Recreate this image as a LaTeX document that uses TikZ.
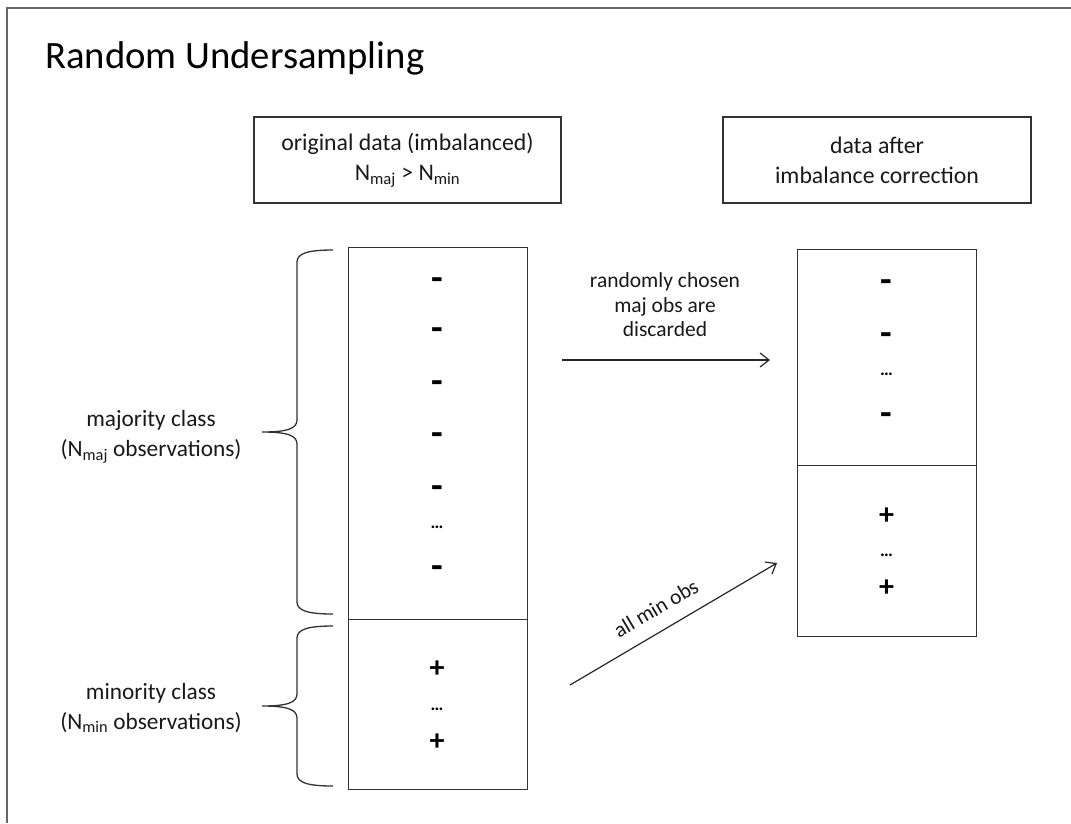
\documentclass[tikz,border=0pt]{standalone}
\usepackage{fontspec}
\setmainfont{Carlito}
\usetikzlibrary{arrows.meta}

\newcommand{\titlefont}{\fontsize{38.7}{44}\selectfont}
\newcommand{\bodyfont}{\fontsize{23.8}{30}\selectfont}
\newcommand{\sidefont}{\fontsize{23.3}{30}\selectfont}
\newcommand{\notefont}{\fontsize{21.5}{24.5}\selectfont}

% curly brace opening to the right; #1 = top y, #2 = bottom y
\newcommand{\drawbrace}[2]{%
  \pgfmathsetmacro{\bmid}{(#1+#2)/2}%
  \draw[ink] (333,#1) .. controls (309,#1) and (297,#1+3) .. (297,#1+12)
    -- (297,\bmid-12) .. controls (297,\bmid-3) and (286,\bmid) .. (262,\bmid)
    .. controls (286,\bmid) and (297,\bmid+3) .. (297,\bmid+12)
    -- (297,#2-12) .. controls (297,#2-3) and (309,#2) .. (333,#2);
}

\begin{document}
\begin{tikzpicture}[x=1pt,y=-1pt,
  ink/.style={draw=black!80, line width=1.3pt},
  frame/.style={draw=black!60, line width=1.6pt},
  cell/.style={ink, minimum width=179pt, inner sep=0pt, anchor=north west},
  headbox/.style={ink, minimum width=307pt, minimum height=86pt, align=center, font=\bodyfont, text=black!90},
  sidelabel/.style={align=center, font=\sidefont, text=black!90},
  note/.style={align=center, font=\notefont, text=black!90},
  minus/.style={font=\fontsize{38}{38}\selectfont\bfseries, inner sep=0pt, text=black, yshift=-6pt},
  plus/.style={font=\fontsize{30}{30}\selectfont\bfseries, inner sep=0pt, text=black},
  dots/.style={font=\fontsize{18}{18}\selectfont\bfseries, inner sep=0pt, text=black},
  arrow/.style={draw=black!85, line width=1.2pt, -{Straight Barb[length=9pt,width=14pt,line width=1.2pt]}}
]
\useasboundingbox (0,0) rectangle (1071,823);

% page frame
\draw[frame] (1071,8) -- (7,8) -- (7,823);

% title
\node[anchor=base west, font=\titlefont, inner sep=0pt, text=black] (title) at (45,68) {Random Undersampling};

% column headers
\node[headbox] (orig) at (407.5,160) {original data (imbalanced)\\N\textsubscript{maj} > N\textsubscript{min}};
\node[headbox, minimum width=308pt] (corr) at (877,160) {data after\\imbalance correction};

% original data column
\node[cell, minimum height=372pt] (lmaj) at (348,247) {};
\node[cell, minimum height=170pt] (lmin) at (348,619) {};
\node[minus] (lm1) at (437,278) {-};
\node[minus] (lm2) at (437,328) {-};
\node[minus] (lm3) at (437,381) {-};
\node[minus] (lm4) at (437,433) {-};
\node[minus] (lm5) at (437,486) {-};
\node[dots] (lmd) at (437,527) {…};
\node[minus] (lm6) at (437,566) {-};
\node[plus] (lp1) at (437,669) {+};
\node[dots] (lpd) at (437,709) {…};
\node[plus] (lp2) at (437,742) {+};

% corrected data column
\node[cell, minimum height=216pt] (rmaj) at (797,249) {};
\node[cell, minimum height=171pt] (rmin) at (797,465) {};
\node[minus] (rm1) at (886.5,280) {-};
\node[minus] (rm2) at (886.5,333) {-};
\node[dots] (rmd) at (886.5,374) {…};
\node[minus] (rm3) at (886.5,413) {-};
\node[plus] (rp1) at (886.5,516) {+};
\node[dots] (rpd) at (886.5,555) {…};
\node[plus] (rp2) at (886.5,588) {+};

% class braces and labels
\drawbrace{250}{614}
\drawbrace{626}{786}
\node[sidelabel] (majlabel) at (151,437) {majority class\\(N\textsubscript{maj} observations)};
\node[sidelabel] (minlabel) at (151,708) {minority class\\(N\textsubscript{min} observations)};

% transitions
\node[note] (discardnote) at (665,305) {randomly chosen\\maj obs are\\discarded};
\coordinate (a1s) at (562,360);
\coordinate (a1e) at (770,360);
\draw[arrow] (a1s) -- (a1e);

\coordinate (a2s) at (570,685);
\coordinate (a2e) at (777,563);
\draw[arrow] (a2s) -- node[pos=0.47, sloped, above=11pt, note] (minnote) {all min obs} (a2e);
\end{tikzpicture}
\end{document}
